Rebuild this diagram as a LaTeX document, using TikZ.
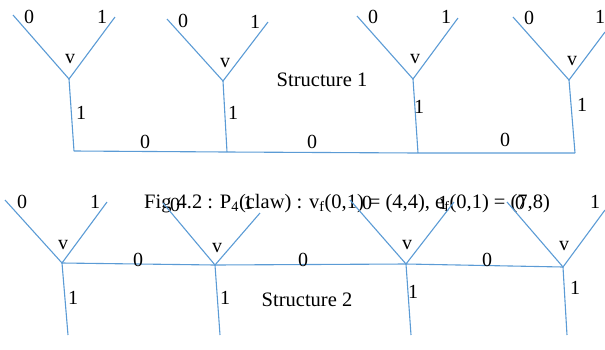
\documentclass[tikz,border=0pt]{standalone}
\usepackage{fontspec}
\setmainfont{Liberation Serif}
\begin{document}
\begin{tikzpicture}[x=1pt,y=-1pt,
  edge/.style={draw={rgb,255:red,91;green,155;blue,213},line width=1.1pt},
  lbl/.style={inner sep=0pt,font=\fontsize{20}{24}\selectfont},
  ttl/.style={inner sep=0pt,font=\fontsize{20.5}{24}\selectfont}]
\useasboundingbox (0,0) rectangle (605,349);
% ---------- Structure 1 ----------
\coordinate (a1v) at (69,79);  \coordinate (a1l) at (13,15);  \coordinate (a1r) at (115,17); \coordinate (a1b) at (74,151);
\coordinate (a2v) at (223,81); \coordinate (a2l) at (167,19); \coordinate (a2r) at (268,22); \coordinate (a2b) at (227,152);
\coordinate (a3v) at (413,79); \coordinate (a3l) at (357,16); \coordinate (a3r) at (458,18); \coordinate (a3b) at (418,153);
\coordinate (a4v) at (569,80); \coordinate (a4l) at (513,17); \coordinate (a4r) at (605,32); \coordinate (a4b) at (575,153);
\foreach \i in {1,2,3,4}{
  \draw[edge] (a\i l) -- (a\i v) -- (a\i r);
  \draw[edge] (a\i v) -- (a\i b);
}
\draw[edge] (a1b) -- (a2b) -- (a3b) -- (a4b);
\node[lbl] (a1z) at (29,17) {0};  \node[lbl] (a1o) at (102,17) {1}; \node[lbl] (a1x) at (70,59) {v};  \node[lbl] (a1d) at (81,113) {1};
\node[lbl] (a2z) at (183,21) {0}; \node[lbl] (a2o) at (255,22) {1}; \node[lbl] (a2x) at (225,63) {v}; \node[lbl] (a2d) at (233,113) {1};
\node[lbl] (a3z) at (373,17) {0}; \node[lbl] (a3o) at (446,17) {1}; \node[lbl] (a3x) at (415,59) {v}; \node[lbl] (a3d) at (419,107) {1};
\node[lbl] (a4z) at (529,18) {0}; \node[lbl] (a4o) at (600,17) {1}; \node[lbl] (a4x) at (572,61) {v}; \node[lbl] (a4d) at (582,105) {1};
\node[lbl] (ah1) at (145,142) {0}; \node[lbl] (ah2) at (312,142) {0}; \node[lbl] (ah3) at (505,140) {0};
\node[ttl] (s1) at (322,80) {Structure 1};
% ---------- caption ----------
\node[ttl,anchor=base west] (cap) at (144,208) {Fig 4.2 : P\textsubscript{4}(claw) : v\textsubscript{f}(0,1) = (4,4), e\textsubscript{f}(0,1) = (7,8)};
% ---------- Structure 2 ----------
\coordinate (b1v) at (62,263);  \coordinate (b1l) at (5,200);   \coordinate (b1r) at (107,202); \coordinate (b1b) at (68,335);
\coordinate (b2v) at (215,265); \coordinate (b2l) at (163,203); \coordinate (b2r) at (260,213); \coordinate (b2b) at (220,335);
\coordinate (b3v) at (406,264); \coordinate (b3l) at (350,200); \coordinate (b3r) at (454,202); \coordinate (b3b) at (411,335);
\coordinate (b4v) at (563,267); \coordinate (b4l) at (507,202); \coordinate (b4r) at (605,210); \coordinate (b4b) at (567,335);
\foreach \i in {1,2,3,4}{
  \draw[edge] (b\i l) -- (b\i v) -- (b\i r);
  \draw[edge] (b\i v) -- (b\i b);
}
\draw[edge] (b1v) -- (b2v) -- (b3v) -- (b4v);
\node[lbl] (b1z) at (22,202) {0};  \node[lbl] (b1o) at (95,202) {1};  \node[lbl] (b1x) at (63,245) {v};  \node[lbl] (b1d) at (73,298) {1};
\node[lbl] (b2z) at (175,205) {0}; \node[lbl] (b2o) at (248,203) {1}; \node[lbl] (b2x) at (217,248) {v}; \node[lbl] (b2d) at (225,298) {1};
\node[lbl] (b3z) at (367,203) {0}; \node[lbl] (b3o) at (443,203) {1}; \node[lbl] (b3x) at (407,245) {v}; \node[lbl] (b3d) at (413,292) {1};
\node[lbl] (b4z) at (520,203) {0}; \node[lbl] (b4o) at (595,202) {1}; \node[lbl] (b4x) at (564,246) {v}; \node[lbl] (b4d) at (575,288) {1};
\node[lbl] (bh1) at (138,260) {0}; \node[lbl] (bh2) at (303,260) {0}; \node[lbl] (bh3) at (487,260) {0};
\node[ttl] (s2) at (307,300) {Structure 2};
\end{tikzpicture}
\end{document}
